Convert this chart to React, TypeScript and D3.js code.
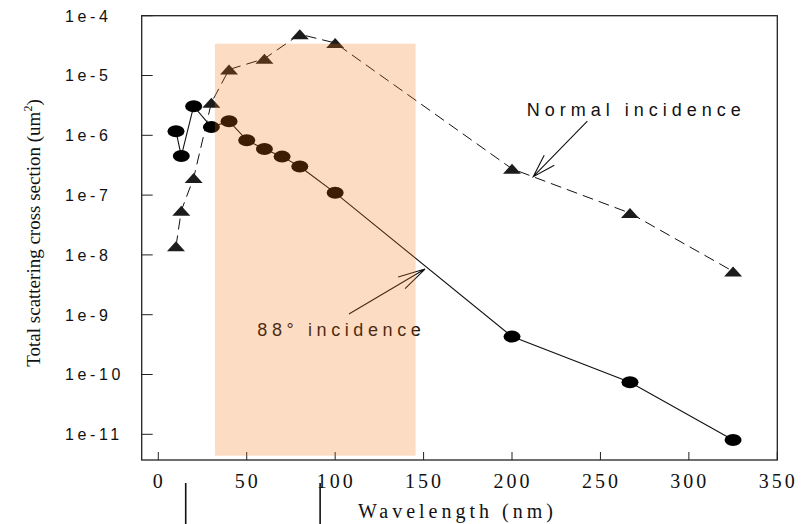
import * as d3 from 'd3'

// ── Data ────────────────────────────────────────────────────────────
const wavelengths88 = [10, 13, 20, 30, 40, 50, 60, 70, 80, 100, 200, 266.7, 325]
const cross88 = [1.17e-6, 4.5e-7, 3.07e-6, 1.37e-6, 1.72e-6, 8.3e-7, 5.9e-7, 4.4e-7, 3.0e-7, 1.09e-7, 4.3e-10, 7.4e-11, 8.0e-12]

const wavelengthsNormal = [10, 13, 20, 30, 40, 60, 80, 100, 200, 266.7, 325]
const crossNormal = [1.39e-8, 5.5e-8, 1.94e-7, 3.5e-6, 1.26e-5, 1.91e-5, 4.9e-5, 3.5e-5, 2.75e-7, 5.0e-8, 5.3e-9]

const xTicks = [0, 50, 100, 150, 200, 250, 300, 350]
const yTicks = [1e-4, 1e-5, 1e-6, 1e-7, 1e-8, 1e-9, 1e-10, 1e-11]
const yTickLabels = ['1e-4', '1e-5', '1e-6', '1e-7', '1e-8', '1e-9', '1e-10', '1e-11']

// highlighted wavelength band and its upper edge
const shadeBand = [32, 145.5]
const shadeTop = 3.4e-5

// short marks under the axis
const belowAxisMarks = [15.5, 91.5]

// annotations: [wavelength, value]
const normalLabelAt: [number, number] = [208.3, 2.1e-6]
const normalArrowTail: [number, number] = [242.6, 1.73e-6]
const normalArrowTip: [number, number] = [212, 2.03e-7]
const label88At: [number, number] = [56, 4.4e-10]
const arrow88Tail: [number, number] = [107.8, 1.03e-9]
const arrow88Tip: [number, number] = [150.8, 5.8e-9]

const W = 807
const H = 524
const LEFT = 141.7
const RIGHT = 777.3
const TOP = 15.7
const BOTTOM = 460

const SANS = '"Liberation Sans", Arial, sans-serif'
const SERIF = '"Liberation Serif", "Times New Roman", serif'

const x = d3.scaleLinear().domain([0, 350]).range([158.3, 777.3])
const y = d3.scaleLog().domain([1e-11, 1e-4]).range([434.3, 15.7])

const line = d3.line<[number, number]>()
  .x(d => x(d[0]))
  .y(d => y(d[1]))

// open V arrowhead plus shaft
function arrowPath(tail: [number, number], tip: [number, number], len: number, angDeg: number) {
  const tx = x(tip[0]), ty = y(tip[1])
  const sx = x(tail[0]), sy = y(tail[1])
  const a = Math.atan2(sy - ty, sx - tx)
  const da = (angDeg * Math.PI) / 180
  const b1 = [tx + len * Math.cos(a - da), ty + len * Math.sin(a - da)]
  const b2 = [tx + len * Math.cos(a + da), ty + len * Math.sin(a + da)]
  return `M${sx},${sy}L${tx},${ty}M${b1[0]},${b1[1]}L${tx},${ty}L${b2[0]},${b2[1]}`
}

function triangle(cx: number, cy: number) {
  return `M${cx - 9},${cy + 5}L${cx + 9},${cy + 5}L${cx},${cy - 5}Z`
}

export default function App() {
  const pts88 = wavelengths88.map((w, i) => [w, cross88[i]] as [number, number])
  const ptsNormal = wavelengthsNormal.map((w, i) => [w, crossNormal[i]] as [number, number])

  return (
    <svg
      width={W}
      height={H}
      style={{ position: 'absolute', left: 0, top: 0, background: '#fff' }}
    >
      {/* frame */}
      <rect x={LEFT} y={TOP} width={RIGHT - LEFT} height={BOTTOM - TOP} fill="none" stroke="#222" strokeWidth={1.3} />

      {/* y ticks + labels */}
      {yTicks.map((t, i) => (
        <g key={t}>
          <line x1={LEFT} x2={LEFT + 11} y1={y(t)} y2={y(t)} stroke="#222" strokeWidth={1} />
          <text x={65} y={y(t) + 5.8} fontFamily={SANS} fontSize={16} letterSpacing={3.6} fill="#111">
            {yTickLabels[i]}
          </text>
        </g>
      ))}

      {/* x ticks + labels */}
      {xTicks.map(t => (
        <g key={t}>
          <line x1={x(t)} x2={x(t)} y1={BOTTOM} y2={BOTTOM - 8} stroke="#222" strokeWidth={1} />
          <text x={x(t) + 1} y={488} textAnchor="middle" fontFamily={SERIF} fontSize={20} letterSpacing={3} fill="#111">
            {t}
          </text>
        </g>
      ))}

      {belowAxisMarks.map(m => (
        <line key={m} x1={x(m)} x2={x(m)} y1={483} y2={H} stroke="#111" strokeWidth={1.6} />
      ))}

      {/* axis titles */}
      <text x={358} y={518} fontFamily={SERIF} fontSize={20} letterSpacing={4} fill="#111">
        Wavelength (nm)
      </text>
      <text
        transform="translate(40,233) rotate(-90)"
        textAnchor="middle"
        fontFamily={SERIF}
        fontSize={19}
        fill="#111"
      >
        Total scattering cross section (um
        <tspan fontSize={12} dy={-8}>2</tspan>
        <tspan dy={8}>)</tspan>
      </text>

      {/* normal incidence: dashed + triangles */}
      <path d={line(ptsNormal) ?? ''} fill="none" stroke="#111" strokeWidth={1} strokeDasharray="11,6" />
      {ptsNormal.map(p => (
        <path key={`t${p[0]}`} d={triangle(x(p[0]), y(p[1]))} fill="#1c1c1c" />
      ))}

      {/* 88 deg incidence: solid + ellipses */}
      <path d={line(pts88) ?? ''} fill="none" stroke="#111" strokeWidth={1.1} />
      {pts88.map(p => (
        <ellipse key={`c${p[0]}`} cx={x(p[0])} cy={y(p[1])} rx={8.5} ry={6} fill="#000" />
      ))}

      {/* annotations */}
      <text x={x(normalLabelAt[0])} y={y(normalLabelAt[1])} fontFamily={SANS} fontSize={18} letterSpacing={5} fill="#111">
        Normal incidence
      </text>
      <path d={arrowPath(normalArrowTail, normalArrowTip, 24, 17)} fill="none" stroke="#111" strokeWidth={1.1} />

      <text x={x(label88At[0])} y={y(label88At[1])} fontFamily={SANS} fontSize={18} letterSpacing={4.6} fill="#111">
        88° incidence
      </text>
      <path d={arrowPath(arrow88Tail, arrow88Tip, 28, 14)} fill="none" stroke="#111" strokeWidth={1.1} />

      {/* translucent highlight band on top */}
      <rect
        x={x(shadeBand[0])}
        y={y(shadeTop)}
        width={x(shadeBand[1]) - x(shadeBand[0])}
        height={BOTTOM - 4.3 - y(shadeTop)}
        fill="rgb(247,115,19)"
        fillOpacity={0.25}
      />
    </svg>
  )
}
